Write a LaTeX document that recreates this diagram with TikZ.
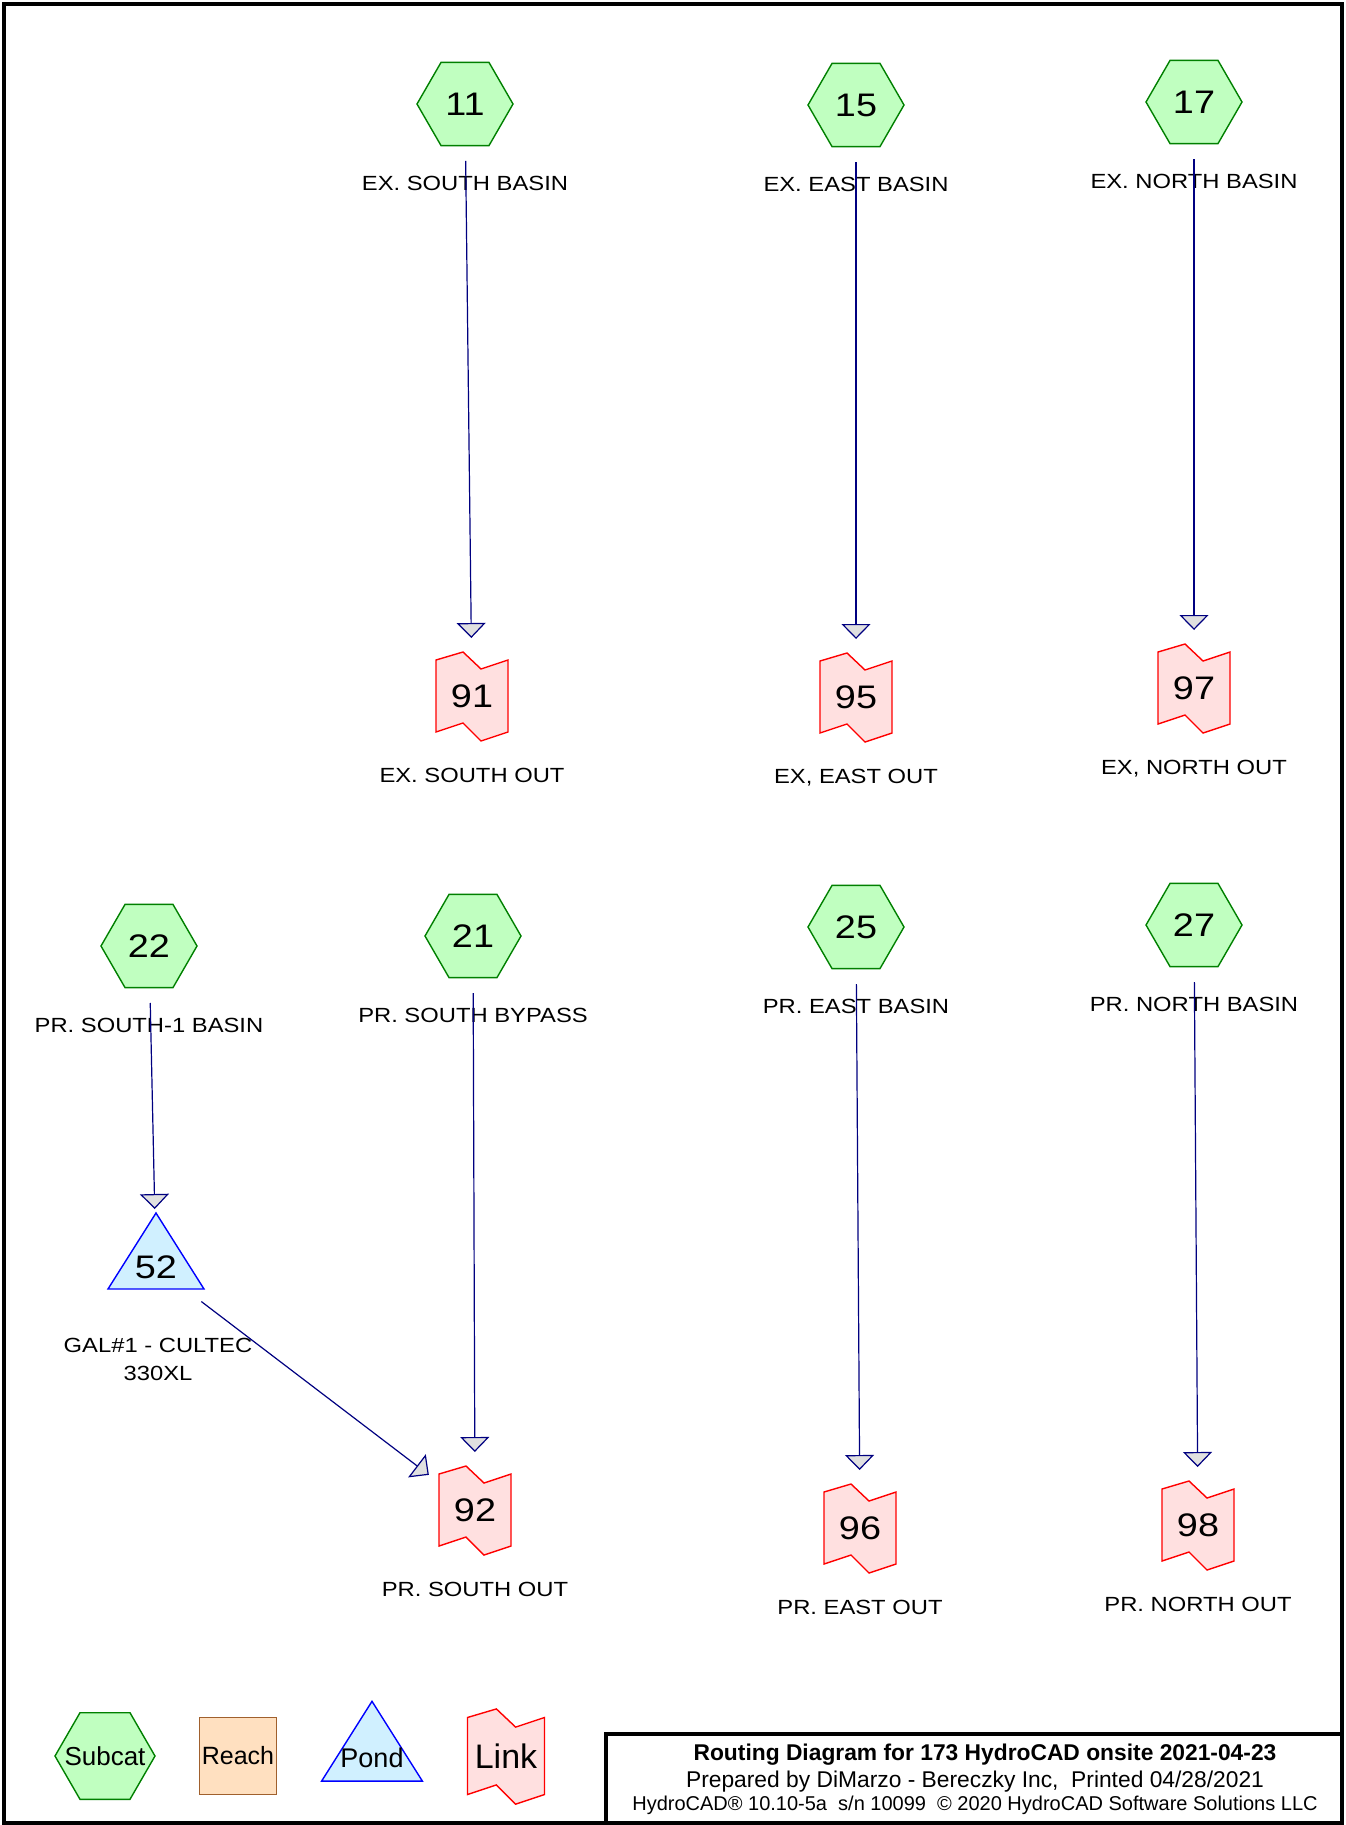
\documentclass[tikz,border=0pt]{standalone}
\usepackage{fontspec}
\setmainfont{Liberation Sans}
\newfontfamily\hcfont[FakeStretch=1.16]{Liberation Sans}
\usetikzlibrary{shapes.geometric,arrows.meta,calc}

\definecolor{subfill}{HTML}{C0FFC0}
\definecolor{subline}{HTML}{008000}
\definecolor{linkfill}{HTML}{FFE0E0}
\definecolor{linkline}{HTML}{FF0000}
\definecolor{pondfill}{HTML}{D0F0FF}
\definecolor{pondline}{HTML}{0000FF}
\definecolor{reachfill}{HTML}{FFE0C0}
\definecolor{reachline}{HTML}{A0602D}
\definecolor{flowline}{HTML}{000080}
\definecolor{tipfill}{HTML}{E0E0E0}

\tikzset{
  subcat/.style={regular polygon, regular polygon sides=6, minimum size=48pt, inner sep=0pt,
    draw=subline, fill=subfill, line width=0.7pt, font=\hcfont\fontsize{16.3}{18}\selectfont},
  num/.style={inner sep=0pt, font=\hcfont\fontsize{16.3}{18}\selectfont},
  lbl/.style={inner sep=0pt, text height=7.35pt, text depth=0pt, font=\hcfont\fontsize{10.25}{14}\selectfont},
  linkbody/.style={draw=linkline, fill=linkfill, line width=0.7pt},
  pondbody/.style={draw=pondline, fill=pondfill, line width=0.7pt},
  flow/.style={draw=flowline, line width=0.6pt, -{Triangle[length=7.5pt, width=14.5pt, fill=tipfill]}},
  frame/.style={draw=black, line width=2.3pt},
}

% link and pond symbols: outline drawn round a text node
\newcommand{\linknode}[4][1]{%
  \filldraw[linkbody, shift={(#3)}, scale=#1] (-36,-36) -- (-9,-44) -- (9,-27) -- (36,-36)
    -- (36,36) -- (9,45) -- (-9,27) -- (-36,36) -- cycle;
  \node[num] (#2) at (#3) {#4};}
\newcommand{\pondnode}[4][1]{%
  \filldraw[pondbody, shift={(#3)}, scale=#1] (0,-54) -- (48,22) -- (-48,22) -- cycle;
  \node[num] (#2) at (#3) {#4};}

\begin{document}
\begin{tikzpicture}[x=0.5pt,y=-0.5pt]
  \useasboundingbox (0,0) rectangle (1345,1825);
  \draw[frame] (4,4) rectangle (1342,1823);
  \draw[frame] (606,1734) rectangle (1342,1823);

  % subcatchments
  \foreach \n/\x/\y/\t in {11/465/104/EX. SOUTH BASIN, 15/856/105/EX. EAST BASIN,
      17/1194/102/EX. NORTH BASIN, 22/149/946/PR. SOUTH-1 BASIN, 21/473/936/PR. SOUTH BYPASS,
      25/856/927/PR. EAST BASIN, 27/1194/925/PR. NORTH BASIN} {
    \node[subcat] (s\n) at (\x,\y) {\n};
    \node[lbl] (s\n-t) at (\x,\y+79) {\t};
  }

  % links
  \foreach \n/\x/\y/\t in {91/472/696/EX. SOUTH OUT, 95/856/697/{EX, EAST OUT},
      97/1194/688/{EX, NORTH OUT}, 92/475/1510/PR. SOUTH OUT,
      96/860/1528/PR. EAST OUT, 98/1198/1525/PR. NORTH OUT} {
    \linknode{l\n}{\x,\y}{\n}
    \node[lbl] (l\n-t) at (\x,\y+79) {\t};
  }

  % pond
  \pondnode{p52}{156,1267}{52}
  \node[inner sep=0pt, align=center, anchor=north, font=\hcfont\fontsize{10.25}{14}\selectfont]
    (p52-t) at (158,1338) {GAL\#1 - CULTEC\\330XL};

  % routing
  \foreach \src/\dst in {s11/l91, s15/l95, s17/l97, s22/p52, s21/l92, p52/l92, s25/l96, s27/l98}
    \draw[flow] ($(\src)!28.5pt!(\dst)$) -- ($(\dst)!29pt!(\src)$);

  % legend
  \node[subcat, minimum size=50pt, label={[font=\fontsize{13}{15}\selectfont]center:Subcat}]
    (lg-sub) at (105,1756) {};
  \node[draw=reachline, fill=reachfill, line width=0.7pt, minimum size=38.5pt,
    inner sep=0pt, font=\fontsize{12.5}{15}\selectfont] (lg-reach) at (238,1756) {Reach};
  \pondnode[1.05]{lg-pond}{372,1758}{\rmfamily\fontsize{13.5}{16}\selectfont Pond}
  \linknode[1.07]{lg-link}{506,1756}{\rmfamily\fontsize{17}{20}\selectfont Link}

  % title block
  \node[anchor=base, inner sep=0pt, font=\bfseries\fontsize{11.4}{13}\selectfont] (ttl) at (985,1760)
    {Routing Diagram for 173 HydroCAD onsite 2021-04-23};
  \node[anchor=base, inner sep=0pt, font=\fontsize{11.4}{13}\selectfont] (prep) at (975,1787)
    {Prepared by DiMarzo - Bereczky Inc,~ Printed 04/28/2021};
  \node[anchor=base, inner sep=0pt, font=\fontsize{10}{12}\selectfont] (soft) at (975,1810)
    {HydroCAD® 10.10-5a~ s/n 10099~ © 2020 HydroCAD Software Solutions LLC};
\end{tikzpicture}
\end{document}
